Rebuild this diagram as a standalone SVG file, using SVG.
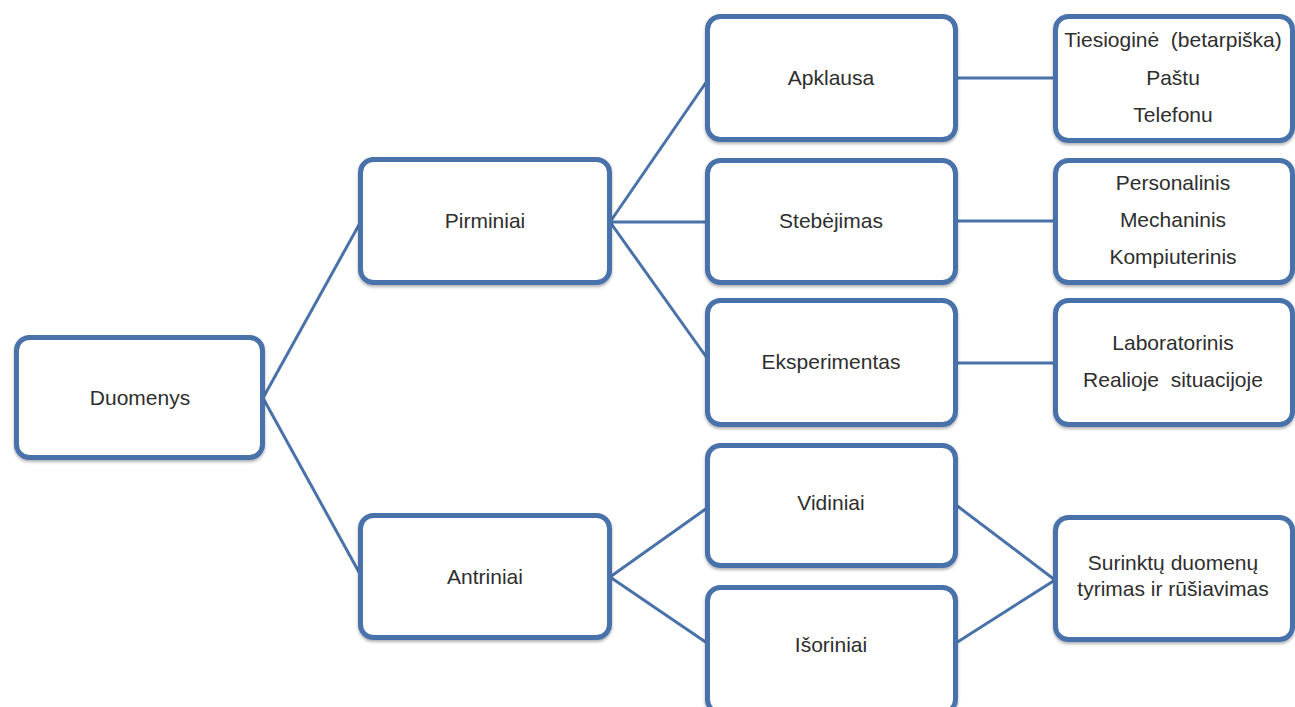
<svg xmlns="http://www.w3.org/2000/svg" width="1295" height="707" viewBox="0 0 1295 707">
<defs>
<filter id="sh" x="-5%" y="-5%" width="110%" height="115%">
<feDropShadow dx="0" dy="2" stdDeviation="1.5" flood-color="#000" flood-opacity="0.3"/>
</filter>
</defs>
<style>
.box{fill:#fff;stroke:#4a72aa;stroke-width:5;filter:url(#sh)}
.lnk{stroke:#4a72aa;stroke-width:3;fill:none}
text{font-family:"Liberation Sans",Arial,sans-serif;font-size:21px;fill:#2e2e2e;text-anchor:middle}
</style>
<rect width="1295" height="707" fill="#fff"/>
<g id="connectors">
<line class="lnk" x1="263" y1="398" x2="360" y2="223"/>
<line class="lnk" x1="263" y1="398" x2="360" y2="574"/>
<line class="lnk" x1="610" y1="222" x2="707" y2="81"/>
<line class="lnk" x1="610" y1="222" x2="707" y2="222"/>
<line class="lnk" x1="610" y1="222" x2="707" y2="358"/>
<line class="lnk" x1="956" y1="78" x2="1055" y2="78"/>
<line class="lnk" x1="956" y1="221" x2="1055" y2="221"/>
<line class="lnk" x1="956" y1="363" x2="1055" y2="363"/>
<line class="lnk" x1="610" y1="577" x2="707" y2="508"/>
<line class="lnk" x1="610" y1="577" x2="707" y2="643"/>
<line class="lnk" x1="956" y1="505" x2="1055" y2="580"/>
<line class="lnk" x1="956" y1="643" x2="1055" y2="580"/>
</g>
<g id="duomenys"><rect class="box" x="16.5" y="337.5" width="246" height="120" rx="13"/><text x="140" y="405">Duomenys</text></g>
<g id="pirminiai"><rect class="box" x="360.5" y="159.5" width="249" height="123" rx="13"/><text x="485" y="228">Pirminiai</text></g>
<g id="antriniai"><rect class="box" x="360.5" y="515.5" width="249" height="122" rx="13"/><text x="485" y="584">Antriniai</text></g>
<g id="apklausa"><rect class="box" x="707.5" y="16.5" width="248" height="123" rx="13"/><text x="831" y="85">Apklausa</text></g>
<g id="stebejimas"><rect class="box" x="707.5" y="160.5" width="248" height="122" rx="13"/><text x="831" y="228">Stebėjimas</text></g>
<g id="eksperimentas"><rect class="box" x="707.5" y="300.5" width="248" height="124" rx="13"/><text x="831" y="369">Eksperimentas</text></g>
<g id="vidiniai"><rect class="box" x="707.5" y="445.5" width="248" height="120" rx="13"/><text x="831" y="510">Vidiniai</text></g>
<g id="isoriniai"><rect class="box" x="707.5" y="587.5" width="248" height="125" rx="13"/><text x="831" y="652">Išoriniai</text></g>
<g id="apklausa-budai"><rect class="box" x="1055.5" y="16.5" width="237" height="124" rx="13"/>
<text x="1173" y="47" xml:space="preserve">Tiesioginė  (betarpiška)</text><text x="1173" y="85">Paštu</text><text x="1173" y="122">Telefonu</text></g>
<g id="stebejimo-budai"><rect class="box" x="1055.5" y="160.5" width="237" height="122" rx="13"/>
<text x="1173" y="190">Personalinis</text><text x="1173" y="227">Mechaninis</text><text x="1173" y="264">Kompiuterinis</text></g>
<g id="eksperimento-budai"><rect class="box" x="1055.5" y="300.5" width="237" height="124" rx="13"/>
<text x="1173" y="350">Laboratorinis</text><text x="1173" y="387" xml:space="preserve">Realioje  situacijoje</text></g>
<g id="surinktu"><rect class="box" x="1055.5" y="517.5" width="237" height="122" rx="13"/>
<text x="1173" y="570">Surinktų duomenų</text><text x="1173" y="596">tyrimas ir rūšiavimas</text></g>
</svg>
